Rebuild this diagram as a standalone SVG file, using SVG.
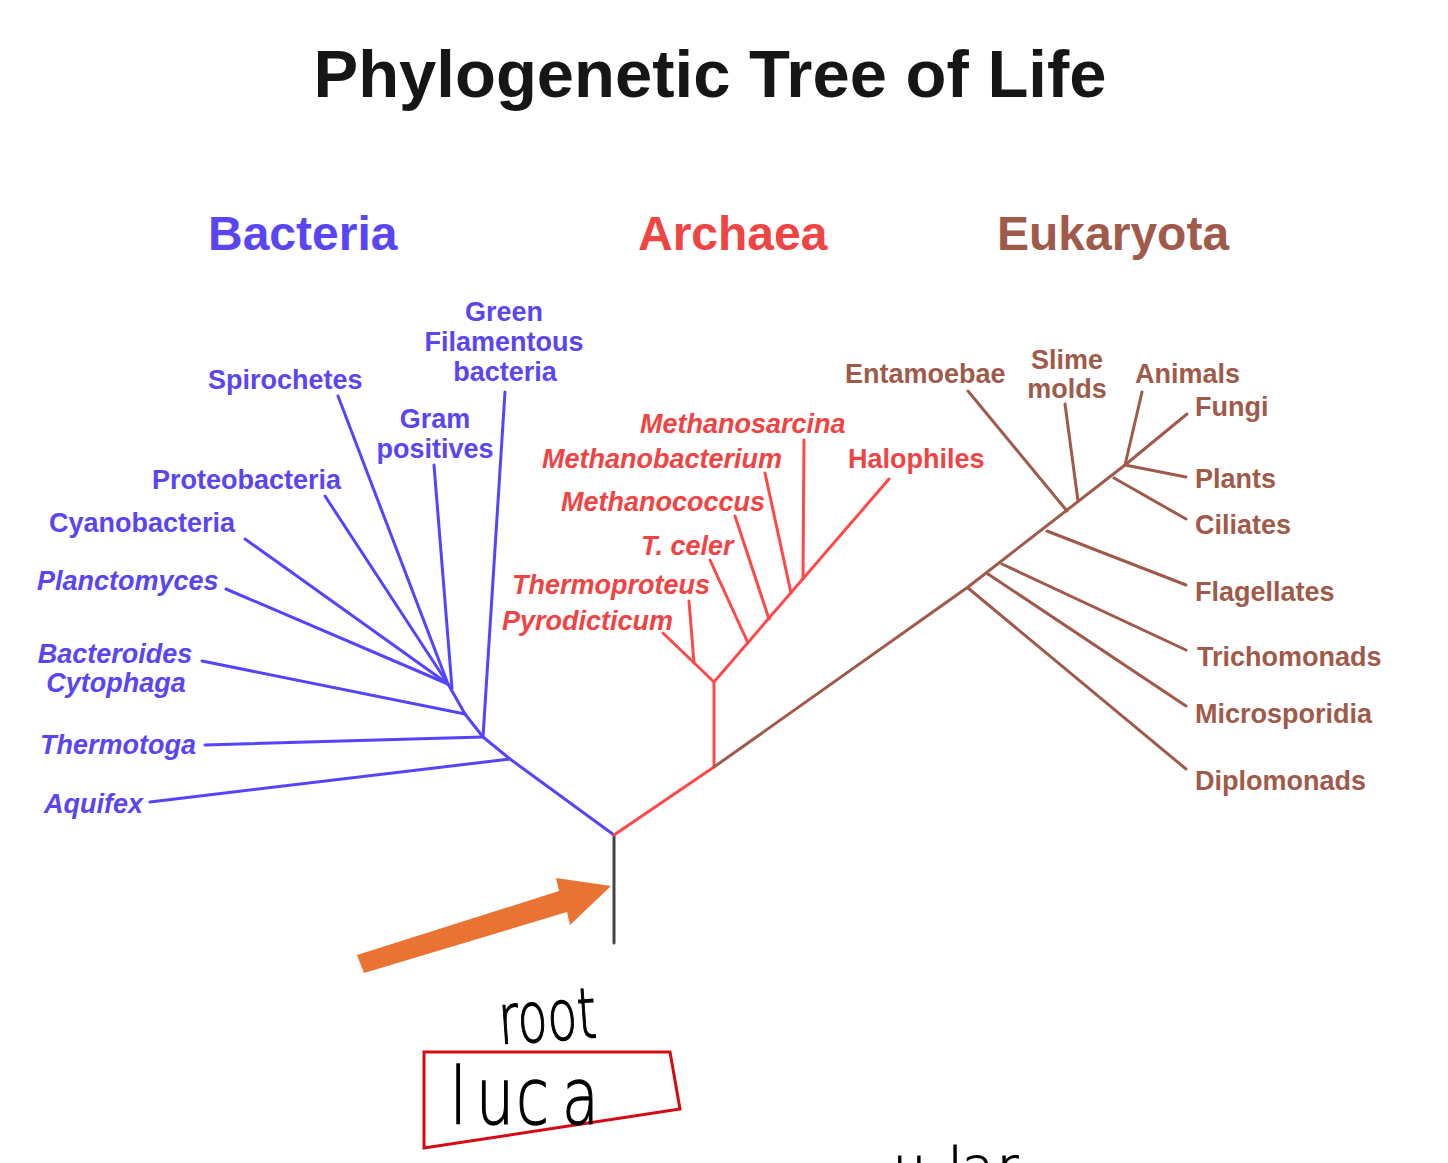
<svg xmlns="http://www.w3.org/2000/svg" width="1448" height="1163" viewBox="0 0 1448 1163">
<style>
text{font-family:"Liberation Sans",Arial,sans-serif;font-weight:bold;}
.title{font-size:67px;fill:#161616;}
.hdr{font-size:48px;}
.lbl{font-size:27px;}
.it{font-style:italic;}
.b{fill:#5a45f2;}
.r{fill:#f04444;}
.e{fill:#a05a4a;}
.mid{text-anchor:middle;}
.lb{stroke:#5544ff;}
.lr{stroke:#ff4848;}
.le{stroke:#a05a4a;}
#connectors polyline,#connectors line{fill:none;stroke-width:3;stroke-linecap:round;stroke-linejoin:round;}
.hand{font-family:"DejaVu Sans",sans-serif;font-weight:200;fill:#000;stroke:#000;stroke-width:1;}
</style>
<rect width="1448" height="1163" fill="#fff"/>
<text class="title mid" x="710" y="97">Phylogenetic Tree of Life</text>
<g id="hdr-bacteria"><text class="hdr b" x="208" y="250">Bacteria</text></g>
<g id="hdr-archaea"><text class="hdr r" x="638" y="250">Archaea</text></g>
<g id="hdr-eukaryota"><text class="hdr e" x="997" y="250">Eukaryota</text></g>

<g id="connectors">
  <line x1="614" y1="835" x2="614" y2="943" stroke="#444" stroke-width="3"/>
  <polyline class="lb" points="614,835 510,759 483,737 465,714 448,684"/>
  <line class="lb" x1="338" y1="396" x2="448" y2="684"/>
  <line class="lb" x1="325" y1="496" x2="448" y2="684"/>
  <line class="lb" x1="245" y1="539" x2="448" y2="684"/>
  <line class="lb" x1="226" y1="589" x2="448" y2="684"/>
  <line class="lb" x1="434" y1="465" x2="452" y2="688"/>
  <line class="lb" x1="202" y1="661" x2="465" y2="714"/>
  <line class="lb" x1="505" y1="392" x2="483" y2="737"/>
  <line class="lb" x1="205" y1="745" x2="483" y2="737"/>
  <line class="lb" x1="150" y1="802" x2="510" y2="759"/>
  <polyline class="lr" points="614,835 714,767 714,682 889,479"/>
  <line class="lr" x1="663" y1="633" x2="714" y2="682"/>
  <line class="lr" x1="689" y1="601" x2="694" y2="663"/>
  <line class="lr" x1="710" y1="560" x2="748" y2="643"/>
  <line class="lr" x1="735" y1="516" x2="769" y2="619"/>
  <line class="lr" x1="765" y1="473" x2="791" y2="593"/>
  <line class="lr" x1="804" y1="440" x2="803" y2="579"/>
  <polyline class="le" points="714,767 968,587 1125,465"/>
  <line class="le" x1="968" y1="588" x2="1186" y2="769"/>
  <line class="le" x1="988" y1="574" x2="1186" y2="706"/>
  <line class="le" x1="1002" y1="564" x2="1186" y2="650"/>
  <line class="le" x1="1047" y1="531" x2="1186" y2="585"/>
  <line class="le" x1="968" y1="391" x2="1067" y2="511"/>
  <line class="le" x1="1065" y1="404" x2="1078" y2="501"/>
  <line class="le" x1="1186" y1="519" x2="1114" y2="478"/>
  <line class="le" x1="1186" y1="477" x2="1125" y2="465"/>
  <line class="le" x1="1142" y1="392" x2="1125" y2="465"/>
  <line class="le" x1="1187" y1="414" x2="1125" y2="465"/>
</g>

<g id="green-filamentous"><text class="lbl b mid" x="504" y="321">Green</text><text class="lbl b mid" x="504" y="351">Filamentous</text><text class="lbl b mid" x="505" y="381">bacteria</text></g>
<g id="spirochetes"><text class="lbl b" x="208" y="389">Spirochetes</text></g>
<g id="gram-positives"><text class="lbl b mid" x="435" y="428">Gram</text><text class="lbl b mid" x="435" y="458">positives</text></g>
<g id="proteobacteria"><text class="lbl b" x="152" y="489">Proteobacteria</text></g>
<g id="cyanobacteria"><text class="lbl b" x="49" y="532">Cyanobacteria</text></g>
<g id="planctomyces"><text class="lbl b it" x="37" y="590">Planctomyces</text></g>
<g id="bacteroides"><text class="lbl b it mid" x="115" y="663">Bacteroides</text><text class="lbl b it mid" x="116" y="692">Cytophaga</text></g>
<g id="thermotoga"><text class="lbl b it" x="40" y="754">Thermotoga</text></g>
<g id="aquifex"><text class="lbl b it" x="44" y="813">Aquifex</text></g>

<g id="methanosarcina"><text class="lbl r it" x="640" y="433">Methanosarcina</text></g>
<g id="methanobacterium"><text class="lbl r it" x="542" y="468">Methanobacterium</text></g>
<g id="methanococcus"><text class="lbl r it" x="561" y="511">Methanococcus</text></g>
<g id="t-celer"><text class="lbl r it" x="641" y="555">T. celer</text></g>
<g id="thermoproteus"><text class="lbl r it" x="512" y="594">Thermoproteus</text></g>
<g id="pyrodicticum"><text class="lbl r it" x="502" y="630">Pyrodicticum</text></g>
<g id="halophiles"><text class="lbl r" x="848" y="468">Halophiles</text></g>

<g id="entamoebae"><text class="lbl e" x="845" y="383">Entamoebae</text></g>
<g id="slime-molds"><text class="lbl e mid" x="1067" y="369">Slime</text><text class="lbl e mid" x="1067" y="398">molds</text></g>
<g id="animals"><text class="lbl e" x="1135" y="383">Animals</text></g>
<g id="fungi"><text class="lbl e" x="1195" y="416">Fungi</text></g>
<g id="plants"><text class="lbl e" x="1195" y="488">Plants</text></g>
<g id="ciliates"><text class="lbl e" x="1195" y="534">Ciliates</text></g>
<g id="flagellates"><text class="lbl e" x="1195" y="601">Flagellates</text></g>
<g id="trichomonads"><text class="lbl e" x="1197" y="666">Trichomonads</text></g>
<g id="microsporidia"><text class="lbl e" x="1195" y="723">Microsporidia</text></g>
<g id="diplomonads"><text class="lbl e" x="1195" y="790">Diplomonads</text></g>

<g id="arrow"><polygon points="357,955 559,891 556,878 611,886 570,925 567,912 364,973" fill="#e87333"/></g>
<g id="root-note"><text class="hand" transform="translate(500,1044) rotate(-4) scale(1,1.25)" x="0" y="0" font-size="56" textLength="98" lengthAdjust="spacingAndGlyphs">root</text></g>
<g id="luca-box">
  <polygon points="424,1052 670,1052 680,1109 424,1148" fill="none" stroke="#d40a14" stroke-width="3"/>
  <text class="hand" transform="translate(0,1124) scale(1,1.3)" font-size="60" x="450 476 516 562" y="0">luca</text>
</g>
<g id="partial-note"><text class="hand" font-size="52" x="893 948 962 997" y="1184">ular</text></g>
</svg>
